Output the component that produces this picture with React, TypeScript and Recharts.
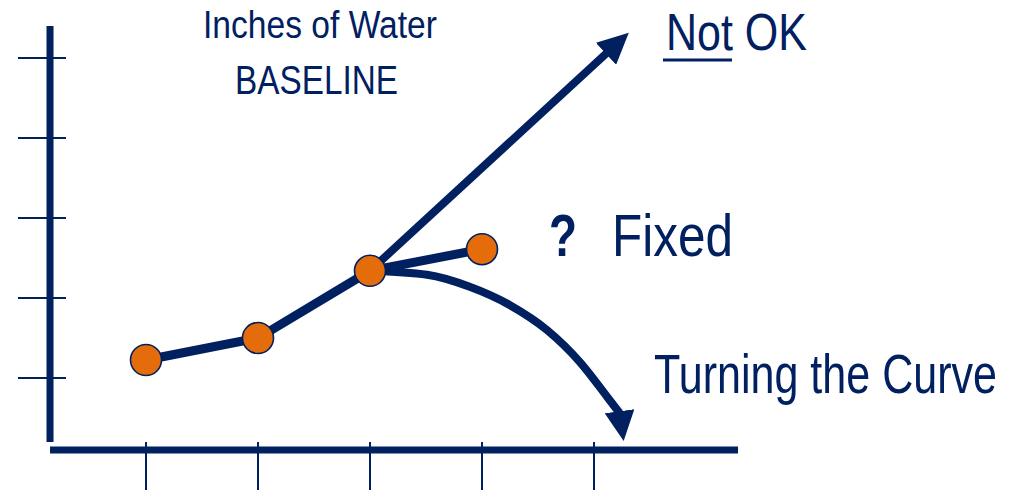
import { LineChart, Line, XAxis, YAxis, ReferenceLine } from "recharts";

const NAVY = "#002060";
const ORANGE = "#E46C0A";
const FONT = "'Liberation Sans', Arial, sans-serif";

// measured points (period, inches of water)
const periods = [1, 2, 3, 4];
const baseline = [1.225, 1.5, 2.34, 2.61];

// "Not OK" trend: straight up from period 3
const notOkX = [3, 5.12];
const notOkY = [2.34, 5.07];

// "Turning the Curve": bends down from period 3
const turnX = [3, 3.51, 3.89, 4.25, 4.58, 4.88, 5.12, 5.23];
const turnY = [2.34, 2.29, 2.14, 1.91, 1.6, 1.19, 0.76, 0.56];

// axis scaffolding
const yTicks = [1, 2, 3, 4, 5];
const xTicks = [1, 2, 3, 4, 5];
const Y_AXIS_X = 0.143;
const Y_AXIS_RANGE: [number, number] = [0.2, 5.4];
const X_AXIS_Y = 0.1;
const X_AXIS_RANGE: [number, number] = [0.143, 6.286];
const Y_TICK_SPAN: [number, number] = [-0.143, 0.286];
const X_TICK_SPAN: [number, number] = [0.2, -0.4];

const baseData = periods.map((x, i) => ({ x, y: baseline[i] }));
const notOkData = notOkX.map((x, i) => ({ x, y: notOkY[i] }));
const turnData = turnX.map((x, i) => ({ x, y: turnY[i] }));

function Dot(props: any) {
  const { cx, cy, index } = props;
  if (cx == null || cy == null) return null;
  return <circle key={index} cx={cx} cy={cy} r={15.5} fill={ORANGE} stroke={NAVY} strokeWidth={1.6} />;
}

// narrow text: draw at natural width, then squeeze horizontally
function NarrowText({ x, y, size, width, scale = 0.84, bold = false, children }: any) {
  return (
    <text
      transform={`translate(${x},${y}) scale(${scale},1)`}
      fontSize={size}
      fontWeight={bold ? "bold" : "normal"}
      textLength={width / scale}
      lengthAdjust="spacingAndGlyphs"
    >
      {children}
    </text>
  );
}

export default function App() {
  return (
    <div style={{ position: "absolute", top: 0, left: 0, background: "#fff" }}>
      <LineChart width={1017} height={490} margin={{ top: 18, right: 3, bottom: 32, left: 34 }}>
        <defs>
          <marker id="headAuto" markerUnits="userSpaceOnUse" markerWidth={32} markerHeight={30} refX={2} refY={15} orient="auto">
            <path d="M0,0 L31,15 L0,30 Z" fill={NAVY} />
          </marker>
          <marker id="headDown" markerUnits="userSpaceOnUse" markerWidth={31} markerHeight={30} refX={2} refY={15} orient="82">
            <path d="M0,0 L30,15 L0,30 Z" fill={NAVY} />
          </marker>
        </defs>
        <XAxis type="number" dataKey="x" domain={[0, 8.75]} hide allowDataOverflow />
        <YAxis type="number" dataKey="y" domain={[0, 5.5]} hide allowDataOverflow />

        <ReferenceLine
          segment={[{ x: Y_AXIS_X, y: Y_AXIS_RANGE[0] }, { x: Y_AXIS_X, y: Y_AXIS_RANGE[1] }]}
          stroke={NAVY}
          strokeWidth={7}
          ifOverflow="visible"
        />
        <ReferenceLine
          segment={[{ x: X_AXIS_RANGE[0], y: X_AXIS_Y }, { x: X_AXIS_RANGE[1], y: X_AXIS_Y }]}
          stroke={NAVY}
          strokeWidth={7}
          ifOverflow="visible"
        />
        {yTicks.map((t) => (
          <ReferenceLine
            key={`yt${t}`}
            segment={[{ x: Y_TICK_SPAN[0], y: t }, { x: Y_TICK_SPAN[1], y: t }]}
            stroke={NAVY}
            strokeWidth={2}
            ifOverflow="visible"
          />
        ))}
        {xTicks.map((t) => (
          <ReferenceLine
            key={`xt${t}`}
            segment={[{ x: t, y: X_TICK_SPAN[0] }, { x: t, y: X_TICK_SPAN[1] }]}
            stroke={NAVY}
            strokeWidth={2}
            ifOverflow="visible"
          />
        ))}

        <Line
          data={notOkData}
          dataKey="y"
          type="linear"
          stroke={NAVY}
          strokeWidth={8}
          dot={false}
          activeDot={false}
          markerEnd="url(#headAuto)"
          isAnimationActive={false}
        />
        <Line
          data={turnData}
          dataKey="y"
          type="monotone"
          stroke={NAVY}
          strokeWidth={8}
          dot={false}
          activeDot={false}
          markerEnd="url(#headDown)"
          isAnimationActive={false}
        />
        <Line
          data={baseData}
          dataKey="y"
          type="linear"
          stroke={NAVY}
          strokeWidth={9}
          dot={<Dot />}
          activeDot={false}
          isAnimationActive={false}
        />

        <g fill={NAVY} fontFamily={FONT}>
          <NarrowText x={203} y={38} size={39} width={234}>
            Inches of Water
          </NarrowText>
          <NarrowText x={235} y={94} size={40} width={163}>
            BASELINE
          </NarrowText>
          <NarrowText x={666} y={50} size={52} width={141}>
            Not OK
          </NarrowText>
          <line x1={663} x2={732} y1={60} y2={60} stroke={NAVY} strokeWidth={3} />
          <NarrowText x={549} y={256} size={59} width={28} bold>
            ?
          </NarrowText>
          <NarrowText x={612} y={256} size={59} width={121}>
            Fixed
          </NarrowText>
          <NarrowText x={654} y={393} size={56} width={343} scale={0.77}>
            Turning the Curve
          </NarrowText>
        </g>
      </LineChart>
    </div>
  );
}
